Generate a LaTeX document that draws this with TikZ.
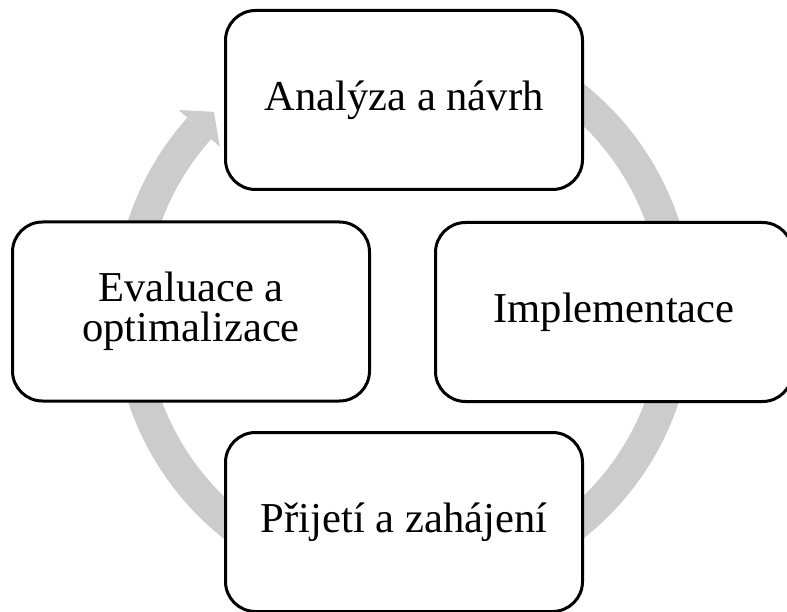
\documentclass[tikz,border=0pt]{standalone}
\usepackage{fontspec}
\setmainfont{Liberation Serif}
\usetikzlibrary{calc}
\definecolor{ringgray}{RGB}{204,204,204}
\begin{document}
\begin{tikzpicture}[x=1pt,y=-1pt,
  stage/.style={draw=black, line width=3pt, fill=white, rounded corners=30pt,
    minimum width=357pt, minimum height=179pt, align=center, inner sep=0pt,
    font=\fontsize{42.6}{40}\selectfont},
  ring/.style={draw=ringgray, line width=32pt}]
\useasboundingbox (0,0) rectangle (787,612);
\clip (0,0) rectangle (787,612);
% centre of the cycle
\coordinate (c) at (403.5,311);
% grey circular arrow running clockwise behind the stages
\draw[ring] ($(c)+(-120:274)$) arc[start angle=-120, end angle=221.8, radius=274];
\coordinate (barbout) at ($(c)+(221.8:301.5)$);
\coordinate (barbin) at ($(c)+(221.8:246.5)$);
\coordinate (tip) at ($(c)+(226.4:275)$);
\fill[ringgray] (barbout) -- (tip) -- (barbin) -- cycle;
% stages
\node[stage] (analyza) at (404,100) {Analýza a návrh};
\node[stage] (impl) at (614,312) {Implementace};
\node[stage] (prijeti) at (404,522) {Přijetí a zahájení};
\node[stage] (eval) at (191,311.5) {Evaluace a\\optimalizace};
\end{tikzpicture}
\end{document}
